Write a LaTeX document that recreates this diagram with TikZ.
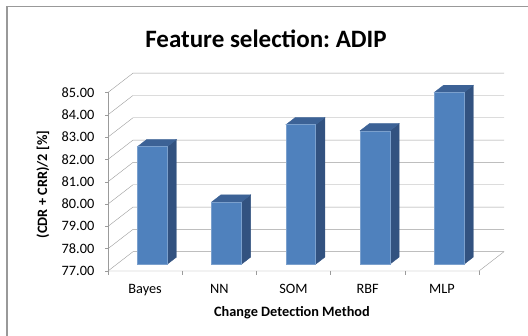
\documentclass[tikz,border=0pt]{standalone}
\usepackage{fontspec}
\setmainfont{Carlito}
\usepackage{xcolor}
\definecolor{barfront}{RGB}{79,129,189}
\definecolor{barside}{RGB}{50,82,128}
\definecolor{bartop}{RGB}{60,98,150}
\definecolor{gridgray}{RGB}{155,155,155}
\frenchspacing

\begin{document}
\begin{tikzpicture}[x={(74.2pt,0pt)}, y={(0pt,22.32pt)}, z={(25pt,19.3pt)}, every node/.style={font=\fontsize{14.3}{16}\selectfont, inner sep=0pt}] % x = method, y = value - 77, z = depth

		\useasboundingbox (-108pt,-65pt) rectangle (420pt,271pt);
		\draw[gray!80, line width=1.4pt] (-101pt,-80pt) -- (-101pt,264.5pt) -- (430pt,264.5pt);
		\coordinate (O) at (0, 0, 0);
		% walls and grid lines
		\foreach \v/\lab in {0/77,1/78,2/79,3/80,4/81,5/82,6/83,7/84,8/85}{
			\draw[gridgray] (0,\v,0) -- (0,\v,1) -- (5,\v,1);
			\draw[gridgray] (0,\v,0) -- ++(-3pt,0pt);
			\node[anchor=east, xshift=-13.5pt] (y\lab) at (0,\v,0) {\lab.00};
		}
		\draw[gridgray] (O) -- (0,8,0);
		\draw[gridgray] (O) -- (5,0,0) -- (5,0,1);
		\foreach \i in {0,...,5}
		\draw[gridgray] (\i,0,0) -- ++(0pt,-4pt);
		% bars
		\foreach \i/\h/\name in {0/5.27/Bayes,1/2.79/NN,2/6.25/SOM,3/5.98/RBF,4/7.70/MLP}{
			\filldraw[draw=barside, fill=barside]
			(\i+0.68,0,0.35) -- (\i+0.68,0,0.72) -- (\i+0.68,\h,0.72) -- (\i+0.68,\h,0.35) -- cycle;
			\filldraw[draw=bartop, fill=bartop]
			(\i+0.28,\h,0.35) -- (\i+0.68,\h,0.35) -- (\i+0.68,\h,0.72) -- (\i+0.28,\h,0.72) -- cycle;
			\filldraw[draw=barfront!75!white, fill=barfront, line width=0.5pt]
			(\i+0.28,0,0.35) -- (\i+0.68,0,0.35) -- (\i+0.68,\h,0.35) -- (\i+0.28,\h,0.35) -- cycle;
			\node[anchor=base, yshift=-23pt] (\name) at (\i+0.5,0,0) {\name};
		}
		\node[anchor=base, font=\fontsize{25}{30}\selectfont\bfseries] (title) at (158pt,223.3pt) {Feature selection: ADIP};
		\node[anchor=base, font=\fontsize{14.3}{16}\selectfont\bfseries] (xlabel) at (184pt,-45.7pt) {Change Detection Method};
		\node[rotate=90, font=\fontsize{14.3}{16}\selectfont\bfseries] (ylabel) at (-65pt,86.5pt) {(CDR + CRR)/2 [\%]};
		\end{tikzpicture}
\end{document}
